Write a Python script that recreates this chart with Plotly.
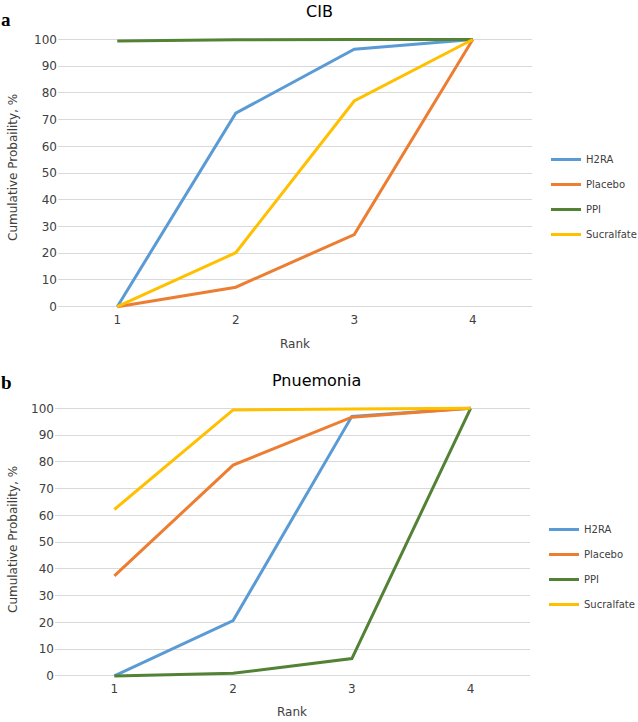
import plotly.graph_objects as go

ranks = ["1", "2", "3", "4"]
series_names = ["H2RA", "Placebo", "PPI", "Sucralfate"]
colors = {"H2RA": "#5B9BD5", "Placebo": "#ED7D31", "PPI": "#548235", "Sucralfate": "#FFC000"}

# Panel a: CIB
cib_h2ra = [0, 72.4, 96.4, 100]
cib_placebo = [0, 7.3, 27.0, 100]
cib_ppi = [99.4, 99.9, 100, 100]
cib_sucralfate = [0, 20.2, 77.0, 100]

# Panel b: Pnuemonia
pn_h2ra = [0, 20.7, 97.0, 100]
pn_placebo = [37.4, 78.8, 96.7, 100]
pn_ppi = [0, 1.0, 6.5, 100]
pn_sucralfate = [62.2, 99.4, 99.7, 100]

yticks = list(range(0, 101, 10))

cib = {"H2RA": cib_h2ra, "Placebo": cib_placebo, "PPI": cib_ppi, "Sucralfate": cib_sucralfate}
pn = {"H2RA": pn_h2ra, "Placebo": pn_placebo, "PPI": pn_ppi, "Sucralfate": pn_sucralfate}

FONT = "DejaVu Sans"
W, H = 638, 722

fig = go.Figure()
for name in series_names:
    fig.add_trace(go.Scatter(x=ranks, y=cib[name], mode="lines", name=name,
                             line=dict(color=colors[name], width=3),
                             xaxis="x", yaxis="y", legend="legend", legendgroup="a" + name))
for name in series_names:
    fig.add_trace(go.Scatter(x=ranks, y=pn[name], mode="lines", name=name,
                             line=dict(color=colors[name], width=3),
                             xaxis="x2", yaxis="y2", legend="legend2", legendgroup="b" + name))

def px_x(p):
    return p / W

def px_y(p):
    return (H - p) / H

axis_common_y = dict(range=[-1.5, 101.5], tickvals=yticks, showgrid=True, gridcolor="#D9D9D9",
                     gridwidth=1, zeroline=False, showline=False, ticks="",
                     tickfont=dict(family=FONT, size=12, color="#404040"), fixedrange=True)
axis_common_x = dict(type="category", range=[-0.5, 3.5], showgrid=False, zeroline=False,
                     showline=False, ticks="", tickfont=dict(family=FONT, size=12, color="#404040"))

legend_common = dict(font=dict(family=FONT, size=10, color="#404040"), bgcolor="rgba(0,0,0,0)",
                     tracegroupgap=6, xanchor="left", yanchor="top")

fig.update_layout(
    width=W, height=H,
    margin=dict(l=0, r=0, t=0, b=0, autoexpand=False),
    paper_bgcolor="white", plot_bgcolor="white",
    showlegend=True,
    xaxis=dict(domain=[px_x(58), px_x(532)], anchor="y", **axis_common_x),
    yaxis=dict(domain=[px_y(310.7), px_y(35.5)], anchor="x", **axis_common_y),
    xaxis2=dict(domain=[px_x(55), px_x(530)], anchor="y2", **axis_common_x),
    yaxis2=dict(domain=[px_y(680), px_y(404.3)], anchor="x2", **axis_common_y),
    legend=dict(x=px_x(546), y=px_y(145), **legend_common),
    legend2=dict(x=px_x(544), y=px_y(515), **legend_common),
)

title_font = dict(family=FONT, size=16, color="#000000")
label_font = dict(family=FONT, size=12, color="#404040")
panel_font = dict(family="Liberation Serif", size=19, color="#000000")

annotations = [
    dict(text="CIB", x=px_x(320), y=px_y(12), font=title_font),
    dict(text="Pnuemonia", x=px_x(316), y=px_y(380), font=title_font),
    dict(text="<b>a</b>", x=px_x(6), y=px_y(20), font=panel_font),
    dict(text="<b>b</b>", x=px_x(6), y=px_y(383), font=panel_font),
    dict(text="Rank", x=px_x(295), y=px_y(344), font=label_font),
    dict(text="Rank", x=px_x(292), y=px_y(712), font=label_font),
    dict(text="Cumulative Probaility, %", x=px_x(13), y=px_y(168), textangle=-90, font=label_font),
    dict(text="Cumulative Probaility, %", x=px_x(13), y=px_y(540), textangle=-90, font=label_font),
]
for a in annotations:
    a.update(xref="paper", yref="paper", showarrow=False, xanchor="center", yanchor="middle")
fig.update_layout(annotations=annotations)

fig.write_html("out.html", config={"displayModeBar": False},
               post_script="document.body.style.margin='0';document.body.style.overflow='hidden';")
